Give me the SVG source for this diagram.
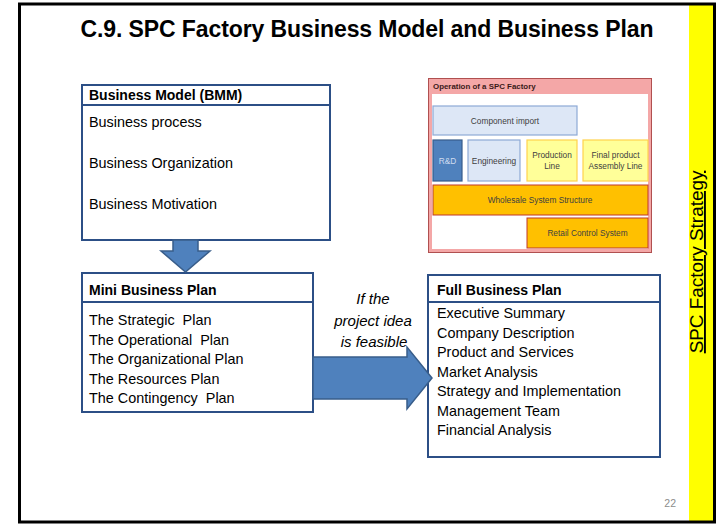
<svg xmlns="http://www.w3.org/2000/svg" width="716" height="526" viewBox="0 0 716 526">
<style>
.t{font-family:"Liberation Sans",Arial,sans-serif;fill:#000}
.item{font-size:14.4px}
.hdr{font-size:14px;font-weight:bold}
.box{fill:#fff;stroke:#2C4F86;stroke-width:2}
.div{stroke:#2C4F86;stroke-width:2}
.arrow{fill:#4F81BD;stroke:#385D8A;stroke-width:1.5}
.s{font-family:"Liberation Sans",Arial,sans-serif;font-size:8.3px;fill:#404040;text-anchor:middle}
.lb{fill:#DDE7F6;stroke:#8EAAD6;stroke-width:1.2}
.ly{fill:#FFFF99;stroke:#FFD24D;stroke-width:1.2}
.or{fill:#FFC000;stroke:#C0392B;stroke-width:1}
.vt{text-decoration:underline;text-decoration-skip-ink:none}
</style>
<rect x="0" y="0" width="716" height="526" fill="#fff"/>
<rect x="689" y="4" width="25" height="518" fill="#FFFF00"/>
<rect x="19.5" y="4" width="695" height="518" fill="none" stroke="#000" stroke-width="3"/>
<text class="t" x="367" y="37" text-anchor="middle" font-size="23" font-weight="bold" textLength="573">C.9. SPC Factory Business Model and Business Plan</text>
<text class="t vt" transform="translate(703,262) rotate(-90)" text-anchor="middle" font-size="18.9">SPC Factory Strategy</text>
<text x="676" y="507" text-anchor="end" font-family="Liberation Sans,Arial,sans-serif" font-size="10.5" fill="#8C8C8C">22</text>

<g id="bmm">
<rect class="box" x="82" y="85" width="248" height="155"/>
<line class="div" x1="82" y1="105" x2="330" y2="105"/>
<text class="t hdr" x="89" y="100">Business Model (BMM)</text>
<text class="t item" x="89" y="127">Business process</text>
<text class="t item" x="89" y="168">Business Organization</text>
<text class="t item" x="89" y="209">Business Motivation</text>
</g>

<g id="mini">
<rect class="box" x="82" y="273" width="231" height="139"/>
<line class="div" x1="82" y1="302" x2="313" y2="302"/>
<text class="t hdr" x="89" y="295">Mini Business Plan</text>
<text class="t item" x="89" y="325" xml:space="preserve">The Strategic  Plan</text>
<text class="t item" x="89" y="344.5" xml:space="preserve">The Operational  Plan</text>
<text class="t item" x="89" y="364">The Organizational Plan</text>
<text class="t item" x="89" y="383.5">The Resources Plan</text>
<text class="t item" x="89" y="403" xml:space="preserve">The Contingency  Plan</text>
</g>

<g id="full">
<rect class="box" x="428" y="275" width="232" height="182"/>
<line class="div" x1="428" y1="302" x2="660" y2="302"/>
<text class="t hdr" x="437" y="295">Full Business Plan</text>
<text class="t item" x="437" y="318">Executive Summary</text>
<text class="t item" x="437" y="337.5">Company Description</text>
<text class="t item" x="437" y="357">Product and Services</text>
<text class="t item" x="437" y="376.5">Market Analysis</text>
<text class="t item" x="437" y="396">Strategy and Implementation</text>
<text class="t item" x="437" y="415.5">Management Team</text>
<text class="t item" x="437" y="435">Financial Analysis</text>
</g>

<g id="operation">
<rect x="428.5" y="78.5" width="223" height="174" fill="#F4A7A7" stroke="#B05050" stroke-width="1"/>
<rect x="432" y="94" width="216" height="155" fill="#fff"/>
<text x="433" y="89" font-family="Liberation Sans,Arial,sans-serif" font-size="7.9" font-weight="bold" fill="#3B1A1A">Operation of a SPC Factory</text>
<rect class="lb" x="433" y="106" width="144" height="29"/>
<text class="s" x="505" y="123.5">Component import</text>
<rect x="433" y="140" width="29" height="41" fill="#4F81BD" stroke="#385D8A" stroke-width="1.2"/>
<text class="s" x="447.5" y="163.5" style="fill:#D0DCF0">R&amp;D</text>
<rect class="lb" x="468" y="140" width="52" height="41"/>
<text class="s" x="494" y="163.5">Engineering</text>
<rect class="ly" x="527" y="140" width="50" height="41"/>
<text class="s" x="552" y="157.5">Production</text>
<text class="s" x="552" y="168.5">Line</text>
<rect class="ly" x="583" y="140" width="65" height="41"/>
<text class="s" x="615.5" y="157.5">Final product</text>
<text class="s" x="615.5" y="168.5">Assembly Line</text>
<rect class="or" x="433" y="185" width="215" height="30"/>
<text class="s" x="540" y="203">Wholesale System Structure</text>
<rect class="or" x="527" y="218" width="121" height="30"/>
<text class="s" x="587.5" y="236">Retail Control System</text>
</g>

<g id="feasible-label">
<text class="t" font-style="italic" font-size="15" text-anchor="middle" x="373" y="304">If the</text>
<text class="t" font-style="italic" font-size="15" text-anchor="middle" x="373" y="326">project idea</text>
<text class="t" font-style="italic" font-size="15" text-anchor="middle" x="374" y="347">is feasible</text>
</g>

<g id="connectors">
<path class="arrow" d="M173,240 H198 V251 H210 L185.5,272 L161,251 H173 Z"/>
<path class="arrow" d="M313,357 H407 V347 L432,378 L407,409 V399 H313 Z"/>
</g>
</svg>
